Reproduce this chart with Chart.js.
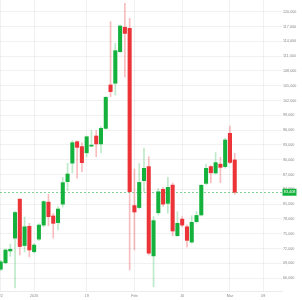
<!DOCTYPE html>
<html><head><meta charset="utf-8">
<script src="https://cdn.jsdelivr.net/npm/chart.js@4"></script>
<style>html,body{margin:0;padding:0;background:#fff;overflow:hidden}</style>
</head><body>
<canvas id="c" width="302" height="300"></canvas>
<script>
const dates = ["2025-12-22","2025-12-23","2025-12-24","2025-12-26","2025-12-29","2025-12-30","2025-12-31",
"2026-01-02","2026-01-05","2026-01-06","2026-01-07","2026-01-08","2026-01-09","2026-01-12","2026-01-13","2026-01-14","2026-01-15","2026-01-16",
"2026-01-19","2026-01-20","2026-01-21","2026-01-22","2026-01-23","2026-01-26","2026-01-27","2026-01-28","2026-01-29","2026-01-30",
"2026-02-02","2026-02-03","2026-02-04","2026-02-05","2026-02-06","2026-02-09","2026-02-10","2026-02-11","2026-02-12","2026-02-13",
"2026-02-16","2026-02-17","2026-02-18","2026-02-19","2026-02-20","2026-02-23","2026-02-24","2026-02-25","2026-02-26","2026-02-27",
"2026-03-02","2026-03-03"];
const opens  = [67800,69100,71500,74100,82000,72600,76500,71350,73900,76750,81400,78600,77250,81000,85550,89300,93650,92650,91400,92750,94800,93200,96350,105150,105500,111900,116850,116650,80700,80300,85750,88600,70500,79250,84000,81150,84850,74600,77950,76400,73300,77450,78800,85200,88600,87300,89100,88600,95350,89950];
const highs  = [69600,71900,72900,79600,82100,78400,77100,73000,77000,81700,83000,79100,80500,86400,89300,93850,93850,93400,94800,95900,95900,96700,102800,118000,113600,117300,121700,118650,88100,89250,92300,90600,78450,84200,84400,86450,85300,79450,78450,76800,78650,79500,85000,89100,88800,91450,90500,94350,96800,91300];
const lows   = [67500,68900,70400,64000,70700,71300,70300,71100,73600,76400,76600,74100,75750,80400,83700,87300,86250,87550,90600,92600,90600,91400,96200,102800,103100,111700,106800,67650,71700,80100,83500,70700,64250,78800,80600,79150,74550,74400,76400,72250,73100,77200,78600,85000,85350,87100,85350,88300,89200,83000];
const closes = [69300,71700,71850,79300,72400,76400,71700,72700,76750,81500,78450,77100,80000,85350,87100,93450,92500,89400,94650,92950,93200,96350,102650,103800,112100,117100,115600,83500,79400,85400,88250,71050,77650,83500,81000,84400,75550,77100,76750,73650,77300,78700,84800,88250,87350,89400,88450,94000,89450,83408];
const xTickIndex  = [0,7,18,28,38,48,55];
const xTickLabels = ["22","2026","19","Feb","16","Mar","09"];
const yStep = 3000;
const lastPrice = closes[closes.length-1];

const UP = '#14b23d', DOWN = '#ec3338';
const UPW = 'rgba(20,178,61,0.28)', DOWNW = 'rgba(236,51,56,0.32)';
const isUp = opens.map((o,i)=>closes[i]>=o);

const priceTag = {
  id:'priceTag',
  beforeDatasetsDraw(chart){
    const {ctx, chartArea:a, scales:{y}} = chart;
    const py = Math.round(y.getPixelForValue(lastPrice))+0.5;
    ctx.save();
    ctx.strokeStyle='rgba(20,178,61,0.55)';
    ctx.lineWidth=1;
    ctx.setLineDash([2,2]);
    ctx.beginPath(); ctx.moveTo(a.left,py); ctx.lineTo(a.right,py); ctx.stroke();
    ctx.restore();
  },
  afterDraw(chart){
    const {ctx, chartArea:a, scales:{y}} = chart;
    const py = y.getPixelForValue(lastPrice);
    ctx.save();
    ctx.fillStyle='#14b23d';
    ctx.fillRect(a.right+0.5, py-3.5, 14, 7);
    ctx.fillStyle='#fff';
    ctx.font='3.8px "Liberation Sans", Arial, sans-serif';
    ctx.textBaseline='middle';
    ctx.textAlign='left';
    ctx.fillText(lastPrice.toLocaleString('en-US'), a.right+1.8, py+0.2);
    ctx.restore();
  }
};

new Chart(document.getElementById('c'), {
  type:'bar',
  data:{
    datasets:[
      { label:'body', data: opens.map((o,i)=>({x:i, y:[o, closes[i]]})),
        backgroundColor: isUp.map(u=>u?UP:DOWN), barThickness:3.4, grouped:false, borderWidth:0 },
      { label:'wick', data: lows.map((l,i)=>({x:i, y:[l, highs[i]]})),
        backgroundColor: isUp.map(u=>u?UPW:DOWNW), barThickness:1, grouped:false, borderWidth:0 }
    ]
  },
  options:{
    responsive:false, animation:false,
    layout:{padding:0},
    plugins:{legend:{display:false}, tooltip:{enabled:false}},
    scales:{
      x:{
        type:'linear', min:-0.147, max:58.9, offset:false,
        grid:{color:'rgba(0,0,0,0.055)', drawTicks:false, offset:false},
        border:{color:'rgba(0,0,0,0.08)'},
        afterBuildTicks(s){ s.ticks = xTickIndex.map(v=>({value:v})); },
        afterFit(s){ s.height = 9; s.paddingLeft=0; s.paddingRight=0; },
        ticks:{ autoSkip:false, maxRotation:0, padding:3, color:'#888',
          font:{size:3.7, family:'"Liberation Sans", Arial, sans-serif'},
          callback:(v)=>{ const k = xTickIndex.indexOf(v); return k>=0 ? xTickLabels[k] : ''; } }
      },
      y:{
        position:'right', min:63386, max:122372,
        grid:{color:'rgba(0,0,0,0.055)', drawTicks:false},
        border:{display:false},
        afterBuildTicks(s){
          const t = [];
          for (let v = Math.ceil(s.min/yStep)*yStep; v <= s.max; v += yStep) t.push({value:v});
          s.ticks = t;
        },
        afterFit(s){ s.width = 20; s.paddingTop=0; s.paddingBottom=0; },
        ticks:{ autoSkip:false, padding:1, color:'#888',
          font:{size:3.7, family:'"Liberation Sans", Arial, sans-serif'},
          callback:(v)=>Number(v).toLocaleString('en-US') }
      }
    }
  },
  plugins:[priceTag]
});
</script>
</body></html>
